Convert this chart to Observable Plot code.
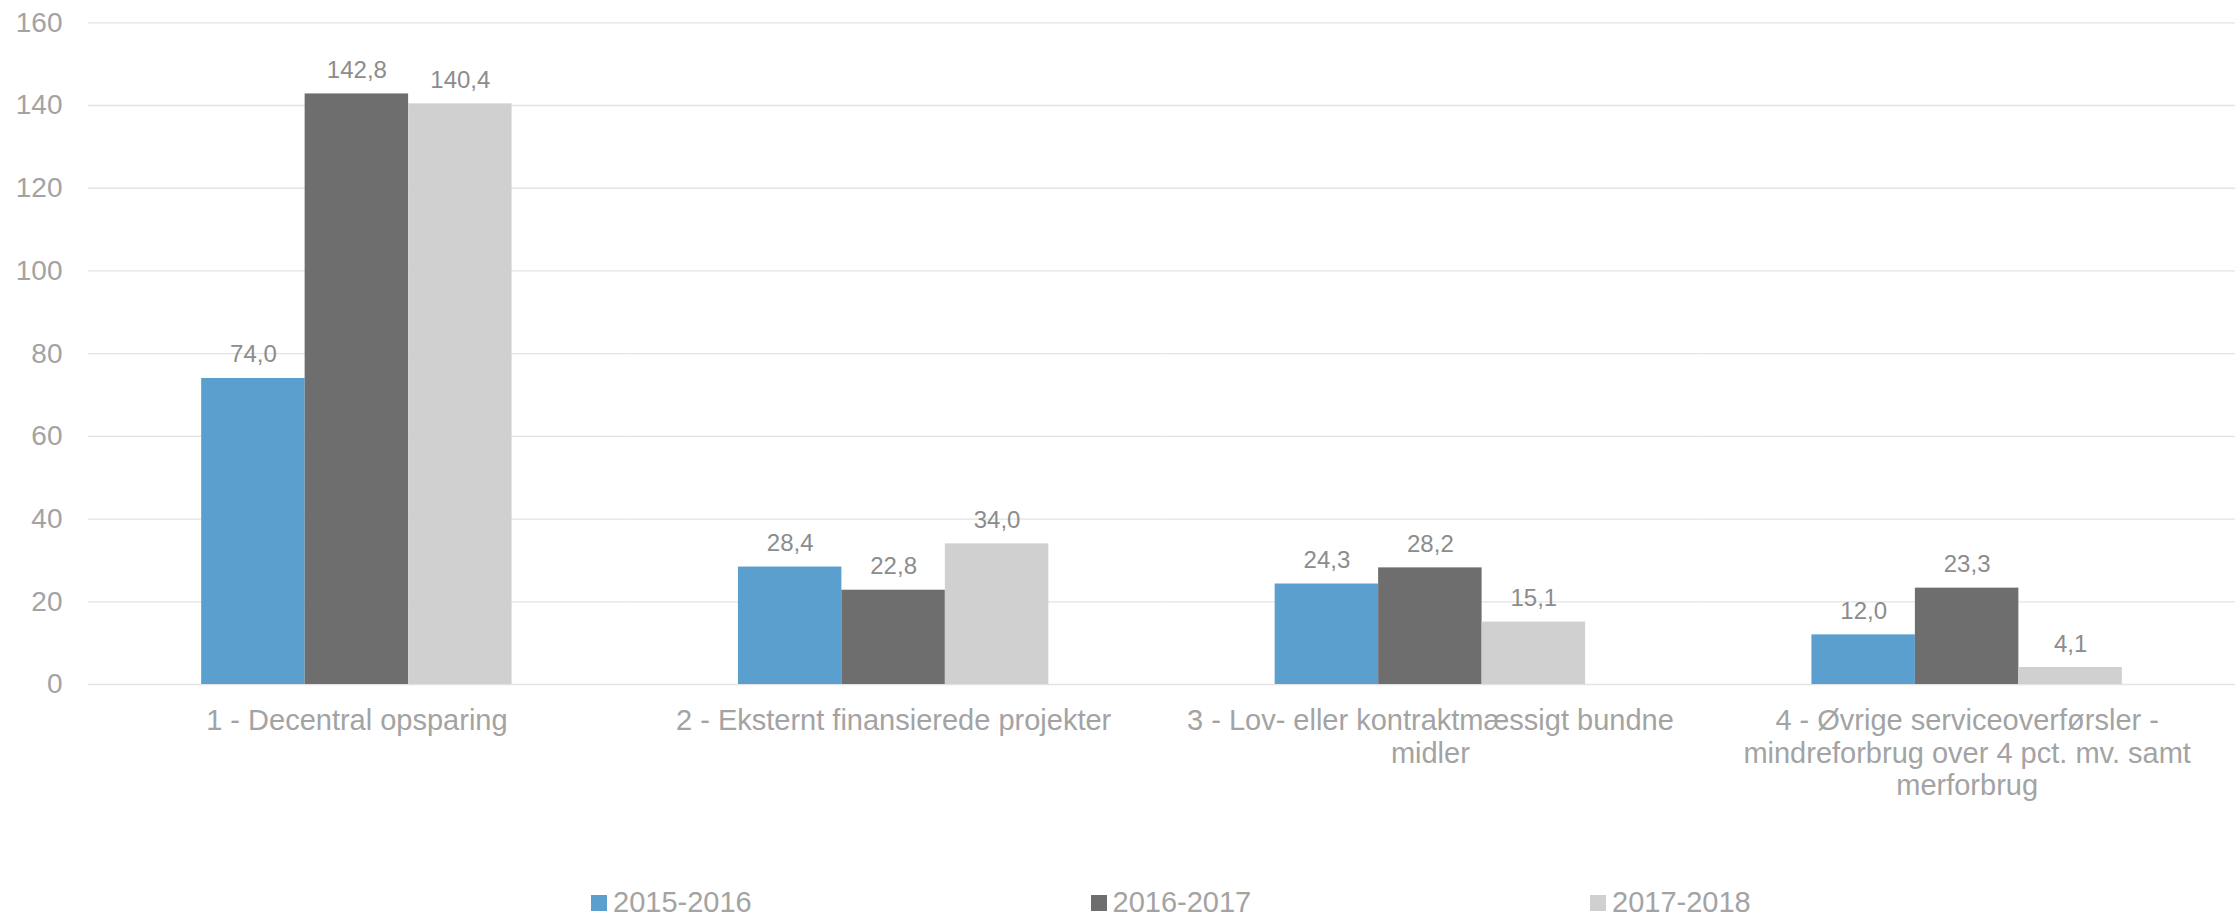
<!DOCTYPE html>
<html><head><meta charset="utf-8">
<script src="https://cdn.jsdelivr.net/npm/d3@7"></script>
<script src="https://cdn.jsdelivr.net/npm/@observablehq/plot@0.6"></script>
<style>
html,body{margin:0;padding:0;background:#fff;}
body{width:2235px;height:916px;overflow:hidden;font-family:"Liberation Sans",Arial,sans-serif;}
#chart svg{display:block;}
#legend{position:relative;height:36px;width:2235px;}
.item{position:absolute;top:0;height:36px;}
.sw{position:absolute;left:0;top:15px;width:16px;height:16px;}
.lb{position:absolute;left:22px;top:8px;font-size:29px;line-height:29px;color:#a3a3a3;white-space:nowrap;}
</style></head><body>
<div id="chart"></div><div id="legend"></div>
<script>
const categories = [
  "1 - Decentral opsparing",
  "2 - Eksternt finansierede projekter",
  "3 - Lov- eller kontraktmæssigt bundne midler",
  "4 - Øvrige serviceoverførsler - mindreforbrug over 4 pct. mv. samt merforbrug"
];
const tickLabels = [
  "1 - Decentral opsparing",
  "2 - Eksternt finansierede projekter",
  "3 - Lov- eller kontraktmæssigt bundne\nmidler",
  "4 - Øvrige serviceoverførsler -\nmindreforbrug over 4 pct. mv. samt\nmerforbrug"
];
const series = ["2015-2016", "2016-2017", "2017-2018"];
const values2015_2016 = [74.0, 28.4, 24.3, 12.0];
const values2016_2017 = [142.8, 22.8, 28.2, 23.3];
const values2017_2018 = [140.4, 34.0, 15.1, 4.1];
const colors = ["#5A9FCD", "#6E6E6E", "#D0D0D0"];
const yTicks = [0, 20, 40, 60, 80, 100, 120, 140, 160];

const seriesValues = [values2015_2016, values2016_2017, values2017_2018];
const data = [];
categories.forEach((c, ci) => series.forEach((s, si) => data.push({category: c, series: s, value: seriesValues[si][ci]})));
const fmt = v => d3.format(".1f")(v).replace(".", ",");
const FONT = '"Liberation Sans", Arial, sans-serif';

const W = 2235, ML = 88, MR = 0;
const padInner = 0.4217, padOuter = padInner / 2;
const step = (W - ML - MR) / categories.length;
const halfGap = padOuter * step; // distance from a group to the frame edge / midpoint between groups

const chart = Plot.plot({
  width: W,
  height: 880,
  marginLeft: ML,
  marginRight: MR,
  marginTop: 22.3,
  marginBottom: 196,
  style: {fontFamily: FONT, background: "#fff", overflow: "visible"},
  fx: {domain: categories, paddingInner: padInner, paddingOuter: padOuter, round: false, axis: null, label: null},
  x: {domain: series, padding: 0, round: false, axis: null},
  y: {domain: [0, 160], axis: null},
  color: {domain: series, range: colors},
  marks: [
    Plot.ruleY(yTicks, {y: d => d, stroke: "#e3e3e3", strokeWidth: 1.3, insetLeft: -halfGap, insetRight: -halfGap}),
    Plot.axisY({ticks: yTicks, tickSize: 0, tickPadding: 26 + halfGap, fontSize: 28, color: "#a3a3a3", label: null, tickFormat: d => String(d)}),
    Plot.barY(data, {fx: "category", x: "series", y: "value", fill: "series"}),
    Plot.text(data, {fx: "category", x: "series", y: "value", text: d => fmt(d.value), lineAnchor: "bottom", dy: -16, fontSize: 24, fill: "#8c8c8c"}),
    Plot.axisFx({anchor: "bottom", tickSize: 0, tickPadding: 22, fontSize: 29, lineHeight: 1.13, color: "#a3a3a3", label: null, tickFormat: c => tickLabels[categories.indexOf(c)]})
  ]
});
document.getElementById("chart").appendChild(chart);

const legend = document.getElementById("legend");
const legendLefts = [591, 1090.5, 1590];
series.forEach((s, i) => {
  const item = document.createElement("div");
  item.className = "item";
  item.style.left = legendLefts[i] + "px";
  const sw = document.createElement("div");
  sw.className = "sw";
  sw.style.background = colors[i];
  const lb = document.createElement("span");
  lb.className = "lb";
  lb.textContent = s;
  item.appendChild(sw);
  item.appendChild(lb);
  legend.appendChild(item);
});
</script>
</body></html>
